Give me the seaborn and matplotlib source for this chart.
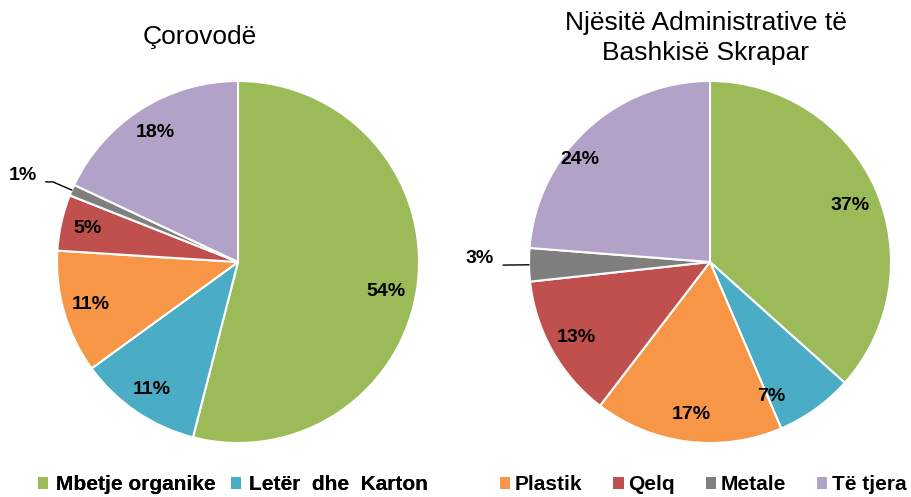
import numpy as np
import seaborn as sns
import matplotlib.pyplot as plt
from matplotlib.patches import Patch

# --- Data ---
CATEGORIES = ['Mbetje organike', 'Letër  dhe  Karton', 'Plastik', 'Qelq', 'Metale', 'Të tjera']
COROVODE = [54, 11, 11, 5, 1, 18]
NJESITE = [37, 7, 17, 13, 3, 24]
TITLE_LEFT = 'Çorovodë'
TITLE_RIGHT = 'Njësitë Administrative të\nBashkisë Skrapar'
COLORS = ['#9BBB59', '#4BACC6', '#F79646', '#C0504D', '#7F7F7F', '#B2A2C7']

sns.set_theme(style='white')
plt.rcParams['font.family'] = ['Liberation Sans', 'DejaVu Sans']
plt.rcParams['text.color'] = 'black'

W, H = 911, 497
fig = plt.figure(figsize=(W / 100, H / 100), dpi=100)


def px_axes(cx, cy, r):
    return fig.add_axes([(cx - r) / W, 1 - (cy + r) / H, 2 * r / W, 2 * r / H])


def draw_pie(ax, values, small_label, nudge):
    palette = sns.color_palette(COLORS)
    wedges, _ = ax.pie(values, colors=palette, startangle=90, counterclock=False,
                       wedgeprops=dict(edgecolor='white', linewidth=1.5))
    ax.set_xlim(-1, 1)
    ax.set_ylim(-1, 1)
    for i, (w, v) in enumerate(zip(wedges, values)):
        mid = np.deg2rad((w.theta1 + w.theta2) / 2)
        txt = f'{v}%'
        if i in small_label:
            pos, conn = small_label[i]
            ax.annotate(txt, xy=(np.cos(mid), np.sin(mid)), xytext=pos,
                        ha='center', va='center', fontsize=14, fontweight='bold',
                        color='black',
                        arrowprops=dict(arrowstyle='-', color='black', lw=1,
                                        relpos=(1.0, 0.1), shrinkA=4, shrinkB=0,
                                        connectionstyle=conn.format(np.rad2deg(mid))))
        else:
            dx, dy = nudge.get(i, (0, 0))
            ax.annotate(txt, xy=(0.85 * np.cos(mid), 0.85 * np.sin(mid)),
                        xytext=(dx * 0.72, -dy * 0.72), textcoords='offset points',
                        ha='center', va='center', fontsize=14, fontweight='bold',
                        color='black')


ax1 = px_axes(238, 262, 181)
draw_pie(ax1, COROVODE, {4: ((-1.19, 0.48), 'angle,angleA=0,angleB={:.1f},rad=0')},
         {0: (-5, 10)})
ax2 = px_axes(710, 262, 181)
draw_pie(ax2, NJESITE, {4: ((-1.27, 0.02), 'arc3,rad=0')},
         {1: (-28, 9), 5: (-26, 10), 0: (0, 6)})

fig.text(200 / W, 1 - 37 / H, TITLE_LEFT, ha='center', va='center', fontsize=19,
         color='black')
fig.text(706 / W, 1 - 38 / H, TITLE_RIGHT, ha='center', va='center', fontsize=19,
         linespacing=1.3, color='black')

handles = [Patch(facecolor=c, edgecolor='none') for c in COLORS]
leg_kw = dict(frameon=False, prop=dict(size=15, weight='bold'), handlelength=0.5,
              handleheight=0.5, borderpad=0, borderaxespad=0, loc='center left',
              labelcolor='black')
leg1 = fig.legend(handles[:2], CATEGORIES[:2], ncol=2, columnspacing=0.75,
                  handletextpad=0.35, bbox_to_anchor=(38 / W, 1 - 485 / H), **leg_kw)
fig.add_artist(leg1)
fig.legend(handles[2:], CATEGORIES[2:], ncol=4, columnspacing=1.5,
           handletextpad=0.2, bbox_to_anchor=(500 / W, 1 - 485 / H), **leg_kw)

fig.savefig('out.png', dpi=100)
